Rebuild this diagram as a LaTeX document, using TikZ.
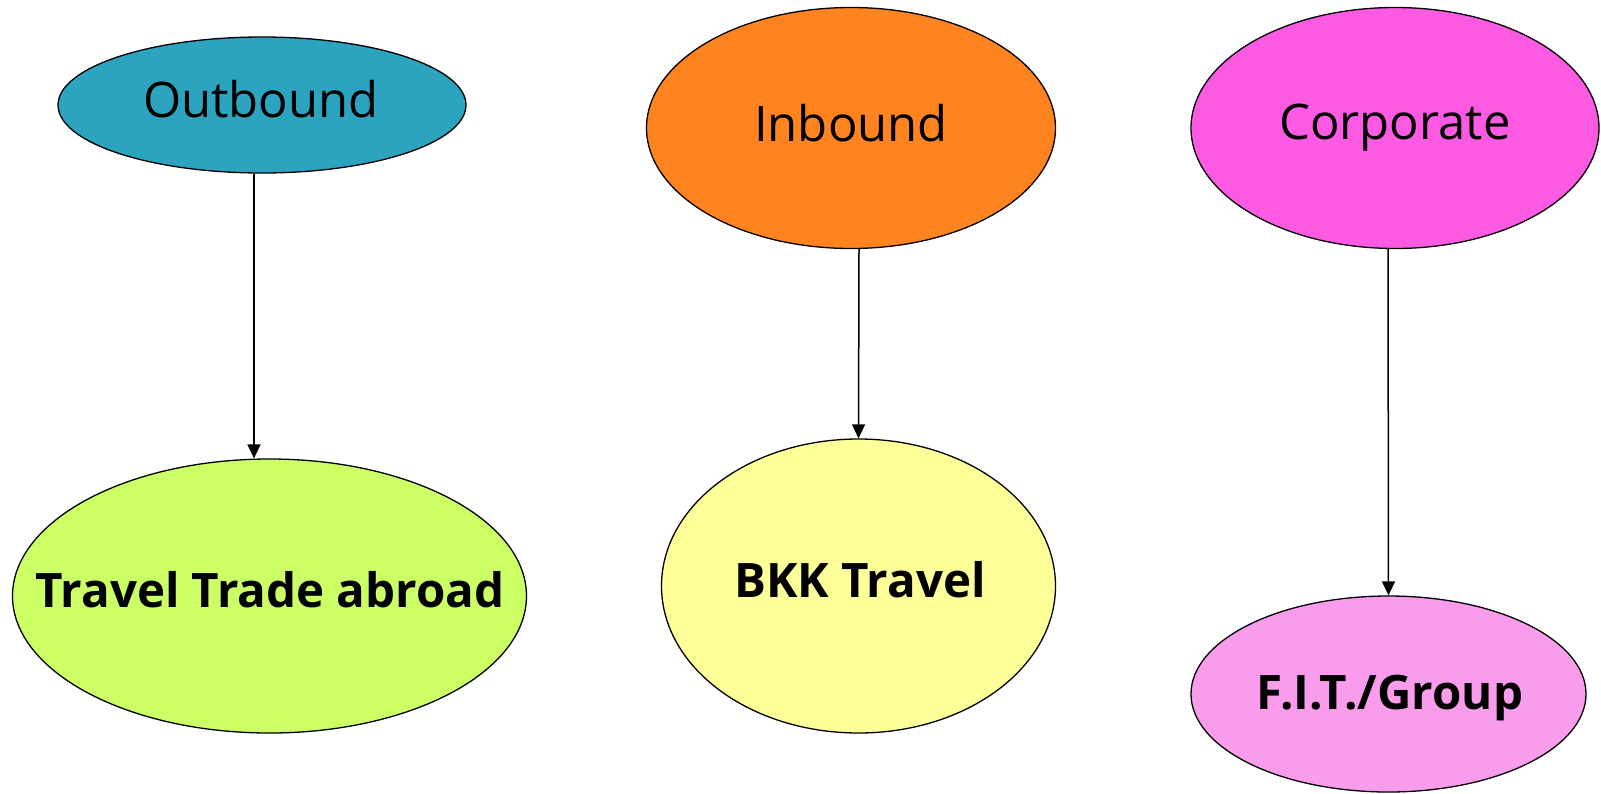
\documentclass[tikz,border=0pt]{standalone}
\usepackage{fontspec}
\setmainfont{Open Sans}
\usetikzlibrary{shapes.geometric,arrows.meta}
\definecolor{outc}{HTML}{2CA3BF}
\definecolor{inc}{HTML}{FF831E}
\definecolor{corpc}{HTML}{FC5AE3}
\definecolor{tradec}{HTML}{CCFF66}
\definecolor{bkkc}{HTML}{FFFF99}
\definecolor{fitc}{HTML}{F99CEC}
\tikzset{
  oval/.style={ellipse, draw=black, line width=1.3pt, inner sep=0pt},
  txt/.style={font=\fontsize{49}{55}\selectfont, inner sep=0pt, anchor=base},
  boldtxt/.style={font=\fontsize{47.5}{54}\selectfont\bfseries, inner sep=0pt, anchor=base},
  arr/.style={-{Triangle[length=14pt,width=13pt]}, line width=1.5pt}
}
\begin{document}
\begin{tikzpicture}[x=1pt,y=-1pt]
\useasboundingbox (0,0) rectangle (1601,793);
% top row: categories
\node[oval, fill=outc, minimum width=408pt, minimum height=136pt] (out) at (262,105) {};
\node[oval, fill=inc, minimum width=409pt, minimum height=241pt] (in) at (851,128) {};
\node[oval, fill=corpc, minimum width=408pt, minimum height=241pt] (corp) at (1395,128) {};
% bottom row: channels
\node[oval, fill=tradec, minimum width=514pt, minimum height=274pt] (trade) at (269.5,596) {};
\node[oval, fill=bkkc, minimum width=394pt, minimum height=294pt] (bkk) at (858.5,586) {};
\node[oval, fill=fitc, minimum width=395pt, minimum height=196pt] (fit) at (1388.5,694) {};
% labels
\node[txt] (outT) at (261,117) {Outbound};
\node[txt] (inT) at (851,141) {Inbound};
\node[txt] (corpT) at (1395,139) {Corporate};
\node[boldtxt] (tradeT) at (270,607) {Travel Trade abroad};
\node[boldtxt] (bkkT) at (860,597) {BKK Travel};
\node[boldtxt] (fitT) at (1390,709) {F.I.T./Group};
% connectors
\draw[arr] ([xshift=-8pt]out.south) -- ([xshift=-15.5pt]trade.north);
\draw[arr] ([xshift=8pt]in.south) -- (bkk.north);
\draw[arr] ([xshift=-7pt]corp.south) -- (fit.north);
\end{tikzpicture}
\end{document}
